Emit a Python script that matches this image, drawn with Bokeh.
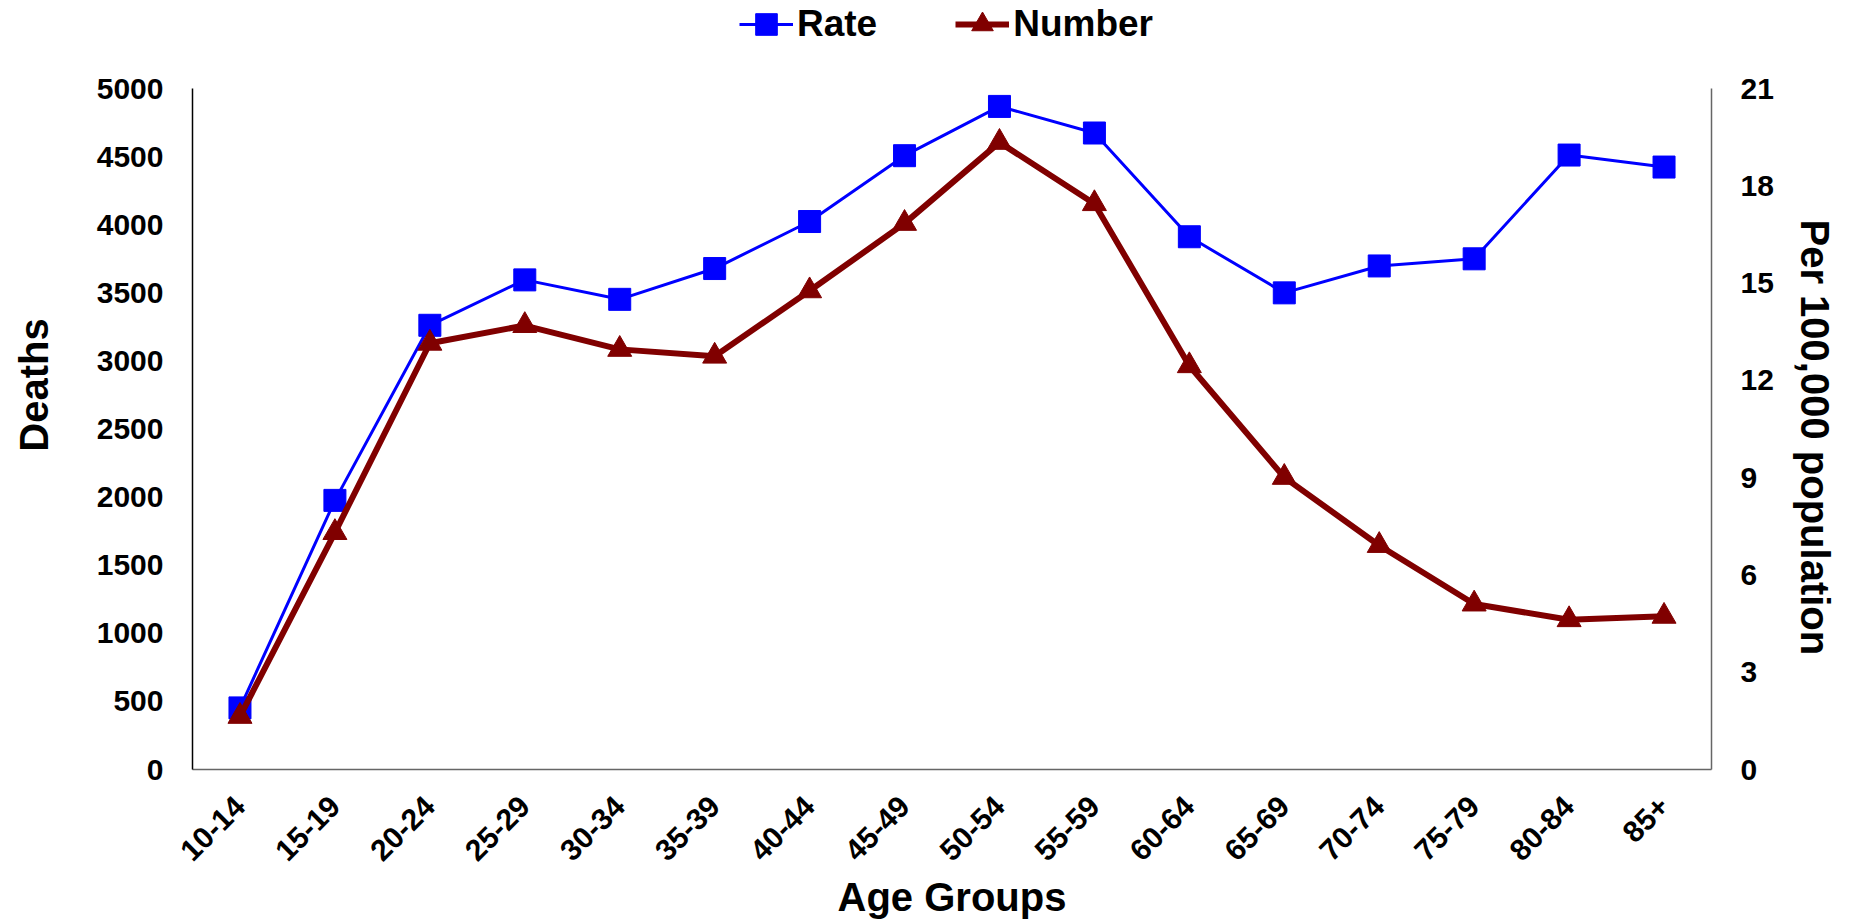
from math import pi

from bokeh.embed import file_html
from bokeh.models import (ColumnDataSource, FactorRange, FixedTicker, Legend,
                          LegendItem, LinearAxis, Range1d, Title)
from bokeh.plotting import figure
from bokeh.resources import INLINE

# Age groups and the two series
age_groups = ["10-14", "15-19", "20-24", "25-29", "30-34", "35-39", "40-44",
              "45-49", "50-54", "55-59", "60-64", "65-69", "70-74", "75-79",
              "80-84", "85+"]
deaths = [390, 1740, 3130, 3260, 3085, 3035, 3515, 4010, 4605, 4155,
          2965, 2145, 1645, 1215, 1100, 1125]
rate_per_100k = [1.9, 8.3, 13.7, 15.1, 14.5, 15.45, 16.9, 18.93, 20.45, 19.63,
                 16.43, 14.7, 15.53, 15.75, 18.95, 18.58]

deaths_ticks = list(range(0, 5001, 500))
rate_ticks = list(range(0, 22, 3))

FONT = "Liberation Sans"
BLUE = "#0000FF"
MAROON = "#800000"

# The frame reaches up to the legend row; axes are bounded to their data span
FRAME_TOP, AXIS_TOP, AXIS_BOTTOM = 0, 89, 777
stretch = (AXIS_BOTTOM - FRAME_TOP) / (AXIS_BOTTOM - AXIS_TOP)
deaths_max, rate_max = deaths_ticks[-1], rate_ticks[-1]

src = ColumnDataSource(dict(age=age_groups, deaths=deaths, rate=rate_per_100k))

p = figure(width=1860, height=921, x_range=FactorRange(*age_groups, range_padding=0),
           y_range=Range1d(0, deaths_max * stretch), output_backend="svg",
           toolbar_location=None, min_border_left=192, min_border_right=149,
           min_border_top=FRAME_TOP, min_border_bottom=921 - AXIS_BOTTOM)
p.extra_y_ranges = {"rate": Range1d(0, rate_max * stretch)}
p.outline_line_color = None
p.xgrid.visible = False
p.ygrid.visible = False
p.background_fill_color = "white"
p.border_fill_color = "white"

# Rate line (drawn first so the deaths series sits on top)
rate_line = p.line("age", "rate", source=src, y_range_name="rate",
                   line_color=BLUE, line_width=3)
rate_pts = p.scatter("age", "rate", source=src, y_range_name="rate",
                     marker="square", size=22, fill_color=BLUE, line_color=BLUE)

num_line = p.line("age", "deaths", source=src, line_color=MAROON, line_width=6)
num_pts = p.scatter("age", "deaths", source=src, marker="triangle", size=24,
                    fill_color=MAROON, line_color=MAROON)


def style_axis(ax):
    ax.major_tick_out = 0
    ax.major_tick_in = 0
    ax.minor_tick_out = 0
    ax.minor_tick_in = 0
    ax.major_label_text_font = FONT
    ax.major_label_text_font_style = "bold"
    ax.major_label_text_font_size = "30px"
    ax.major_label_text_color = "black"
    ax.axis_label_text_font = FONT
    ax.axis_label_text_font_style = "bold"
    ax.axis_label_text_font_size = "40px"
    ax.axis_label_text_color = "black"


# Left axis: deaths
yl = p.yaxis[0]
style_axis(yl)
yl.ticker = FixedTicker(ticks=deaths_ticks)
yl.bounds = (0, deaths_max)
yl.axis_label = "Deaths"
yl.axis_line_color = "black"
yl.axis_line_width = 1.5
yl.major_label_standoff = 29
yl.axis_label_standoff = 38

# Bottom axis: age groups
xb = p.xaxis[0]
style_axis(xb)
xb.axis_label = "Age Groups"
xb.axis_line_color = "#666666"
xb.axis_line_width = 1.5
xb.major_label_orientation = pi / 4
xb.major_label_standoff = 32
xb.axis_label_standoff = 2

# Right axis: rate per 100,000, titled from the top of the panel downwards
yr = LinearAxis(y_range_name="rate", ticker=FixedTicker(ticks=rate_ticks),
                bounds=(0, rate_max))
style_axis(yr)
yr.axis_line_color = "#666666"
yr.axis_line_width = 1.5
yr.major_label_standoff = 29
p.add_layout(yr, "right")
p.add_layout(Title(text="Per 100,000 population", align="left", offset=219,
                   vertical_align="bottom", standoff=32, text_font=FONT,
                   text_font_style="bold", text_font_size="40px",
                   text_color="black"), "right")

legend = Legend(items=[LegendItem(label="Rate", renderers=[rate_line, rate_pts]),
                       LegendItem(label="Number", renderers=[num_line, num_pts])],
                orientation="horizontal", location=(547, AXIS_BOTTOM - 60),
                label_text_font=FONT, label_text_font_style="bold",
                label_text_font_size="37px", label_text_color="black",
                glyph_width=54, glyph_height=56, label_height=56,
                label_standoff=4, spacing=78, padding=0, margin=0,
                border_line_color=None, background_fill_alpha=0)
p.add_layout(legend)

open("out.html", "w").write(file_html(p, INLINE))
